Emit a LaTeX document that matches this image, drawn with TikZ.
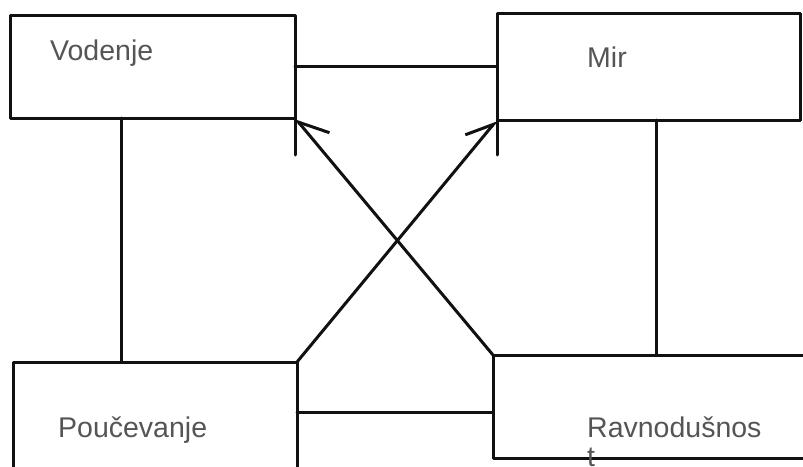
\documentclass[tikz,border=0pt]{standalone}
\usepackage{fontspec}
\setmainfont{Liberation Sans}
\usetikzlibrary{arrows.meta,calc}
\definecolor{ink}{HTML}{111111}
\definecolor{txt}{HTML}{555555}
\begin{document}
\begin{tikzpicture}[x=1pt,y=-1pt,
  box/.style={draw=ink,line width=3pt,rectangle,inner sep=0pt,outer sep=0pt,anchor=north west,line join=round},
  lbl/.style={text=txt,font=\fontsize{28.5}{29}\selectfont,inner sep=0pt,anchor=base west,align=left},
  wire/.style={draw=ink,line width=3pt,line cap=round},
  ]
\useasboundingbox (0,0) rectangle (803,466);
\clip (0,0) rectangle (803,466);
\fill[white] (0,0) rectangle (803,466);
\node[box,minimum width=285pt,minimum height=103pt] (TL) at (10,15) {};
\node[box,minimum width=303pt,minimum height=107pt] (TR) at (497,13) {};
\node[box,minimum width=284pt,minimum height=120pt] (BL) at (13,362) {};
\node[box,minimum width=320pt,minimum height=103pt] (BR) at (493,355) {};
% labels
\node[lbl] (t1) at (50,60) {Vodenje};
\node[lbl] (t2) at (587,67) {Mir};
\node[lbl] (t3) at (58,437) {Poučevanje};
\node[lbl] (t4) at (587,466) {Ravnodušnos\\t};
% connectors
\draw[wire] (TL.east) -- (TL.east -| TR.west);
\draw[wire] ($(BL.north east)!0.42!(BL.south east)$) coordinate (h2) -- (h2 -| BR.west);
\draw[wire] ($(TL.south west)!0.39!(TL.south east)$) coordinate (v1) -- (v1 |- BL.north);
\draw[wire] ($(TR.south west)!0.525!(TR.south east)$) coordinate (v2) -- (v2 |- BR.north);
\draw[wire] (TL.south east) -- ++(0,37);
\draw[wire] (TR.south west) -- ++(0,35);
\draw[wire,-{Straight Barb[right,length=28pt,width=34pt]}] (BR.north west) -- (TL.south east);
\draw[wire,-{Straight Barb[left,length=26pt,width=30pt]}] (BL.north east) -- (TR.south west);
\end{tikzpicture}
\end{document}
